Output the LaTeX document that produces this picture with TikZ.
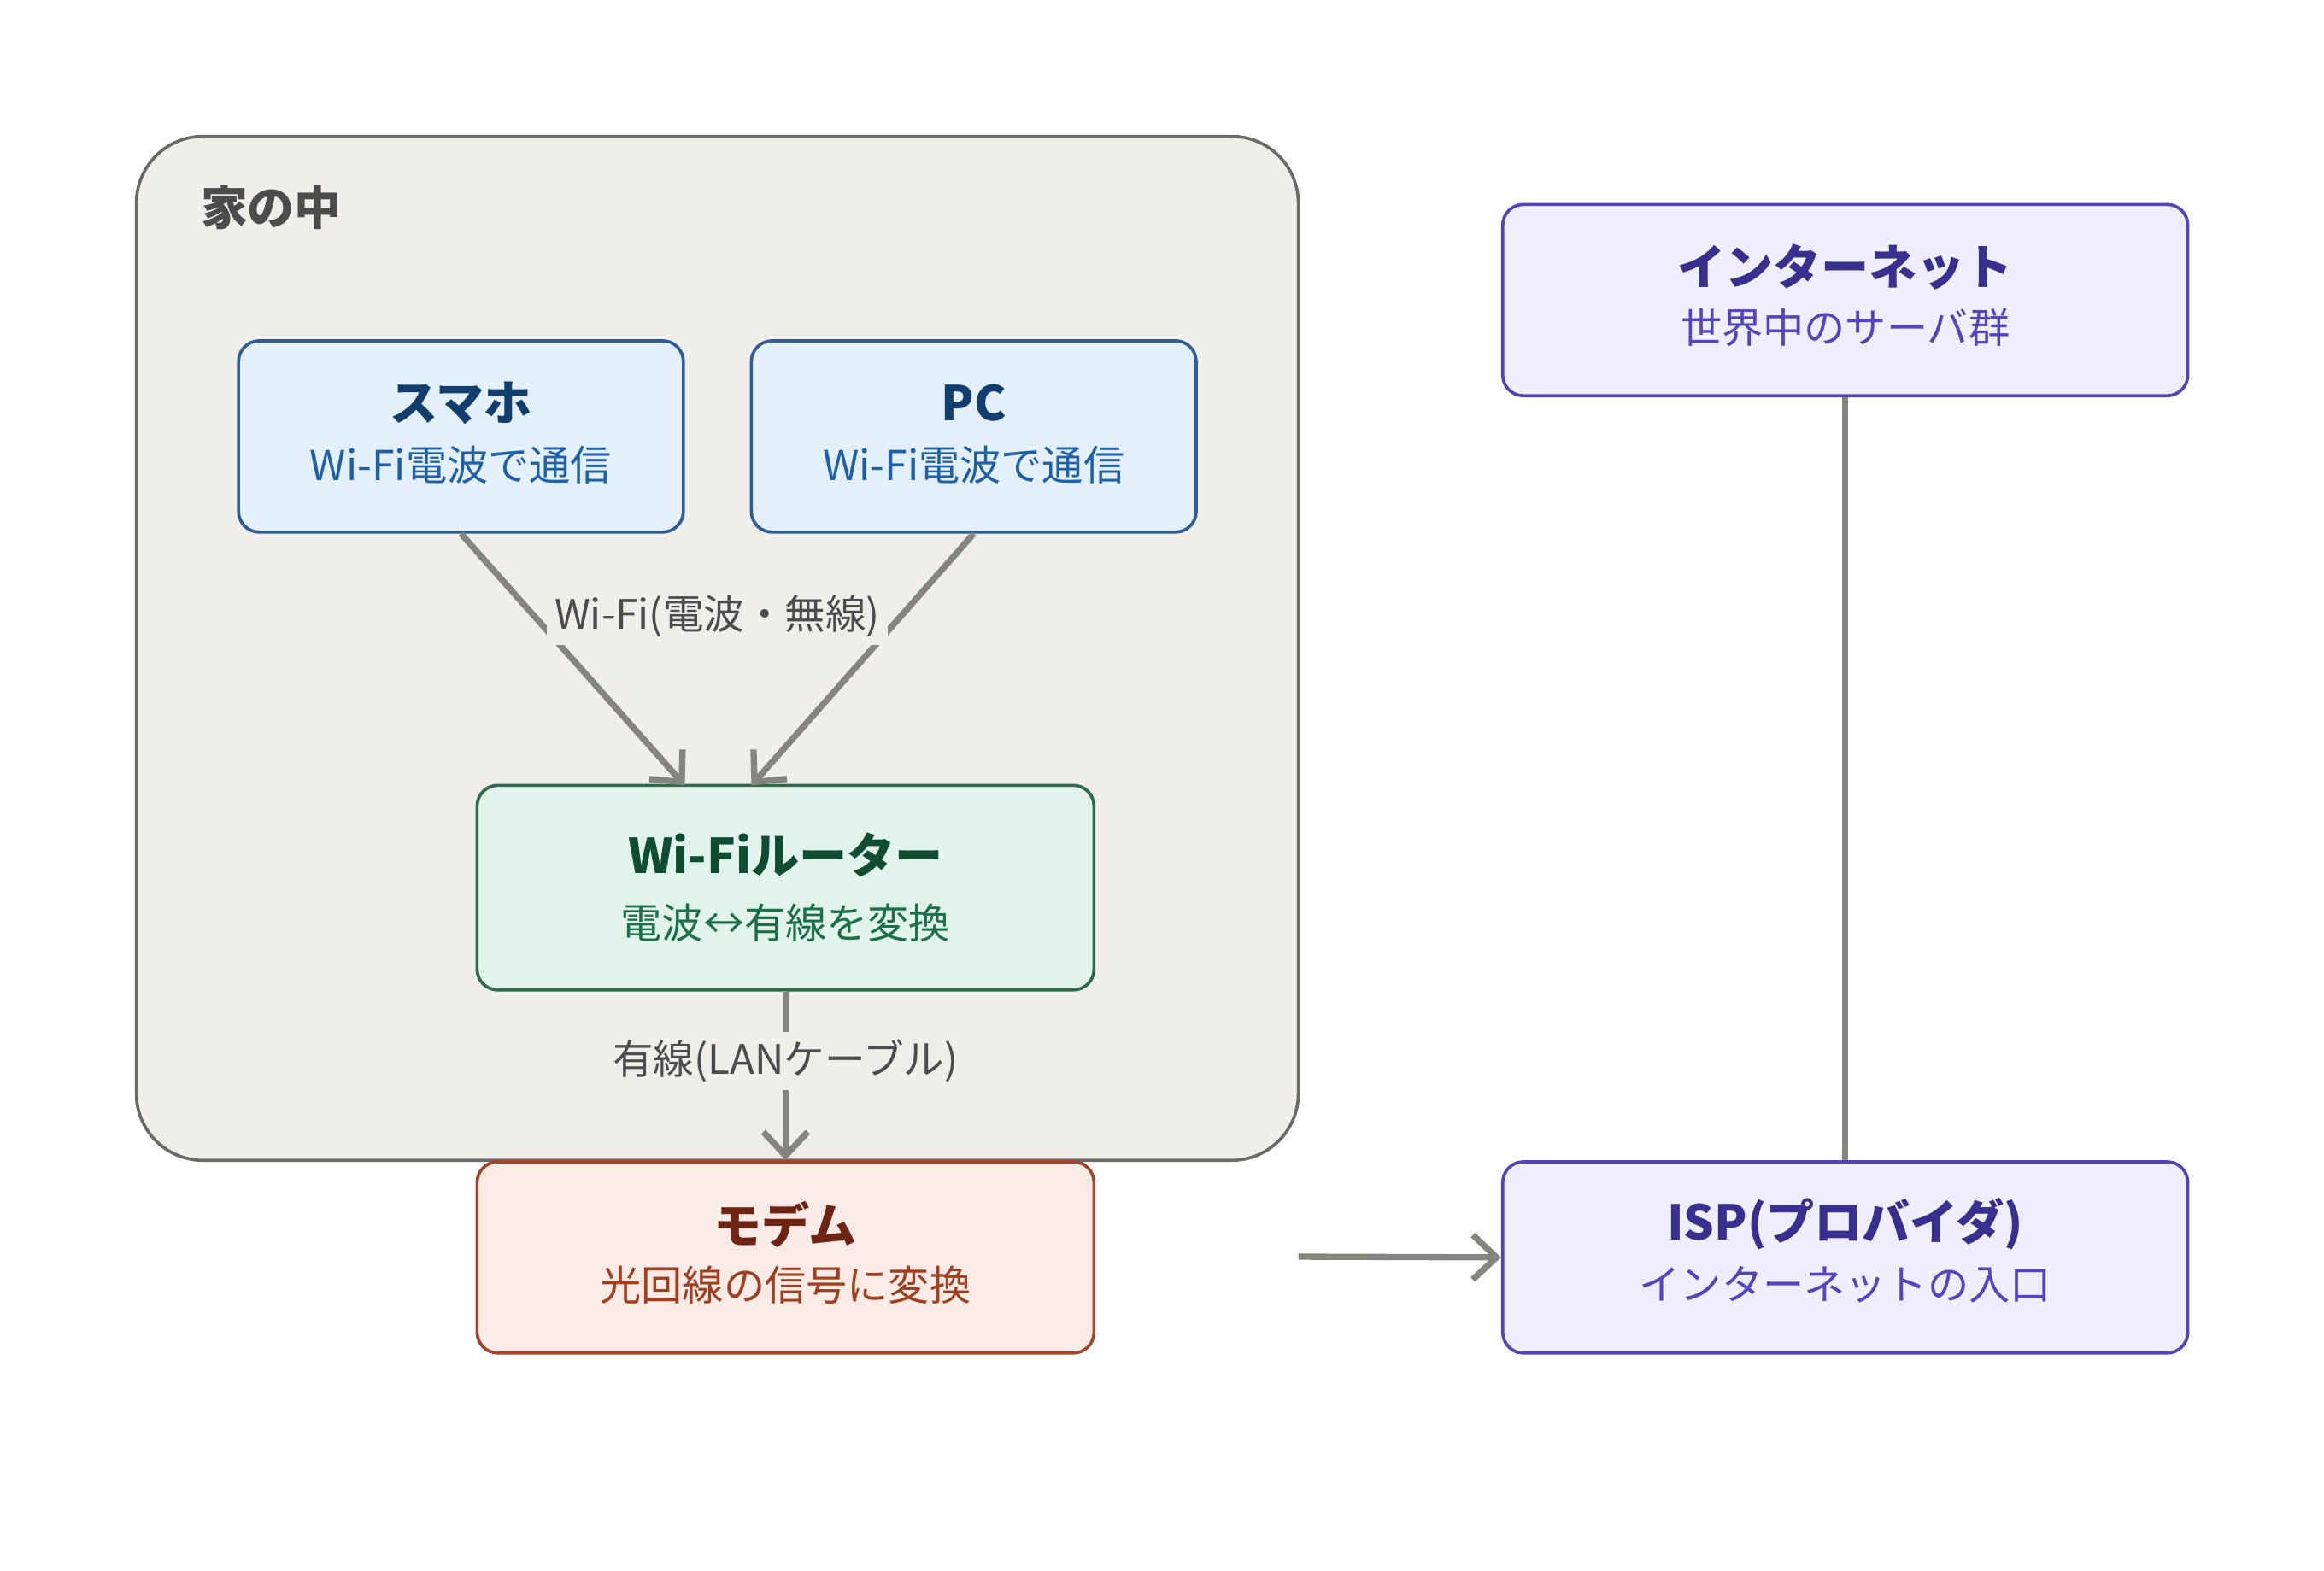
\documentclass[tikz,border=0pt]{standalone}
\usepackage{fontspec}
\setmainfont{Noto Sans CJK JP}
\usetikzlibrary{positioning}
\definecolor{homefill}{HTML}{F0EEEA}
\definecolor{homeline}{HTML}{6A6A66}
\definecolor{bluefill}{HTML}{E3EFF9}
\definecolor{blueline}{HTML}{2F5C94}
\definecolor{bluetitle}{HTML}{123E6E}
\definecolor{bluesub}{HTML}{2060A8}
\definecolor{greenfill}{HTML}{E2F3EC}
\definecolor{greenline}{HTML}{2E6A4E}
\definecolor{greentitle}{HTML}{0E4D33}
\definecolor{greensub}{HTML}{1A7048}
\definecolor{redfill}{HTML}{FAEBE6}
\definecolor{redline}{HTML}{A0442C}
\definecolor{redtitle}{HTML}{6E2412}
\definecolor{redsub}{HTML}{A03E1E}
\definecolor{violetfill}{HTML}{EEEEFC}
\definecolor{violetline}{HTML}{5444B8}
\definecolor{violettitle}{HTML}{3A2E8E}
\definecolor{violetsub}{HTML}{5444C0}
\definecolor{wire}{HTML}{858580}
\tikzset{
  box/.style={draw, rounded corners=0.14cm, line width=0.6pt, inner sep=0pt},
  title/.style={font=\bfseries\fontsize{9.2}{10}\selectfont},
  sub/.style={font=\fontsize{7.9}{9}\selectfont},
  wirelabel/.style={font=\fontsize{7.8}{9}\selectfont, text=black!70, fill=homefill, inner sep=1.5pt},
  link/.style={draw=wire, line width=1.2pt},
  arrow/.style={link, ->, >={Straight Barb[length=1.6mm,width=3mm]}}
}
\usetikzlibrary{arrows.meta}
\begin{document}
\begin{tikzpicture}[x=0.01cm, y=-0.01cm]
    \useasboundingbox (0,0) rectangle (1568,1060);

    % home area
    \draw[fill=homefill, draw=homeline, line width=0.6pt, rounded corners=0.45cm] (92,92) rectangle (876,783);
    \node[font=\bfseries\fontsize{9}{10}\selectfont, text=black!70] (home) at (183,140) {家の中};

    % boxes
    \node[box, fill=bluefill, draw=blueline, minimum width=3cm, minimum height=1.29cm] (phone) at (311,294.5) {};
    \node[box, fill=bluefill, draw=blueline, minimum width=3cm, minimum height=1.29cm] (pc) at (657,294.5) {};
    \node[box, fill=greenfill, draw=greenline, minimum width=4.16cm, minimum height=1.38cm] (router) at (530,599) {};
    \node[box, fill=redfill, draw=redline, minimum width=4.16cm, minimum height=1.29cm] (modem) at (530,848.5) {};
    \node[box, fill=violetfill, draw=violetline, minimum width=4.62cm, minimum height=1.29cm] (net) at (1245,202.5) {};
    \node[box, fill=violetfill, draw=violetline, minimum width=4.62cm, minimum height=1.29cm] (isp) at (1245,848.5) {};

    % texts
    \node[title, text=bluetitle] (phonet) at (311,272) {スマホ};
    \node[sub, text=bluesub] (phones) at (311,314) {Wi-Fi電波で通信};
    \node[title, text=bluetitle] (pct) at (657,272) {PC};
    \node[sub, text=bluesub] (pcs) at (657,314) {Wi-Fi電波で通信};
    \node[title, text=greentitle] (routert) at (530,577) {Wi-Fiルーター};
    \node[sub, text=greensub] (routers) at (530,623) {電波↔有線を変換};
    \node[title, text=redtitle] (modemt) at (530,826) {モデム};
    \node[sub, text=redsub] (modems) at (530,867) {光回線の信号に変換};
    \node[title, text=violettitle] (nett) at (1245,180) {インターネット};
    \node[sub, text=violetsub] (nets) at (1245,221) {世界中のサーバ群};
    \node[title, text=violettitle] (ispt) at (1245,826) {ISP(プロバイダ)};
    \node[sub, text=violetsub] (isps) at (1245,867) {インターネットの入口};

    % connectors
    \draw[arrow] (phone.south) -- (462,530);
    \draw[arrow] (pc.south) -- (507,530);
    \node[wirelabel] (wifi) at (484,416) {Wi-Fi(電波・無線)};
    \draw[arrow] (router.south) -- (modem.north);
    \node[wirelabel] (lan) at (530,716) {有線(LANケーブル)};
    \coordinate (homeout) at (876,848);
    \draw[arrow] (homeout) -- (isp.west);
    \draw[link] (net.south) -- (isp.north);
\end{tikzpicture}
\end{document}
